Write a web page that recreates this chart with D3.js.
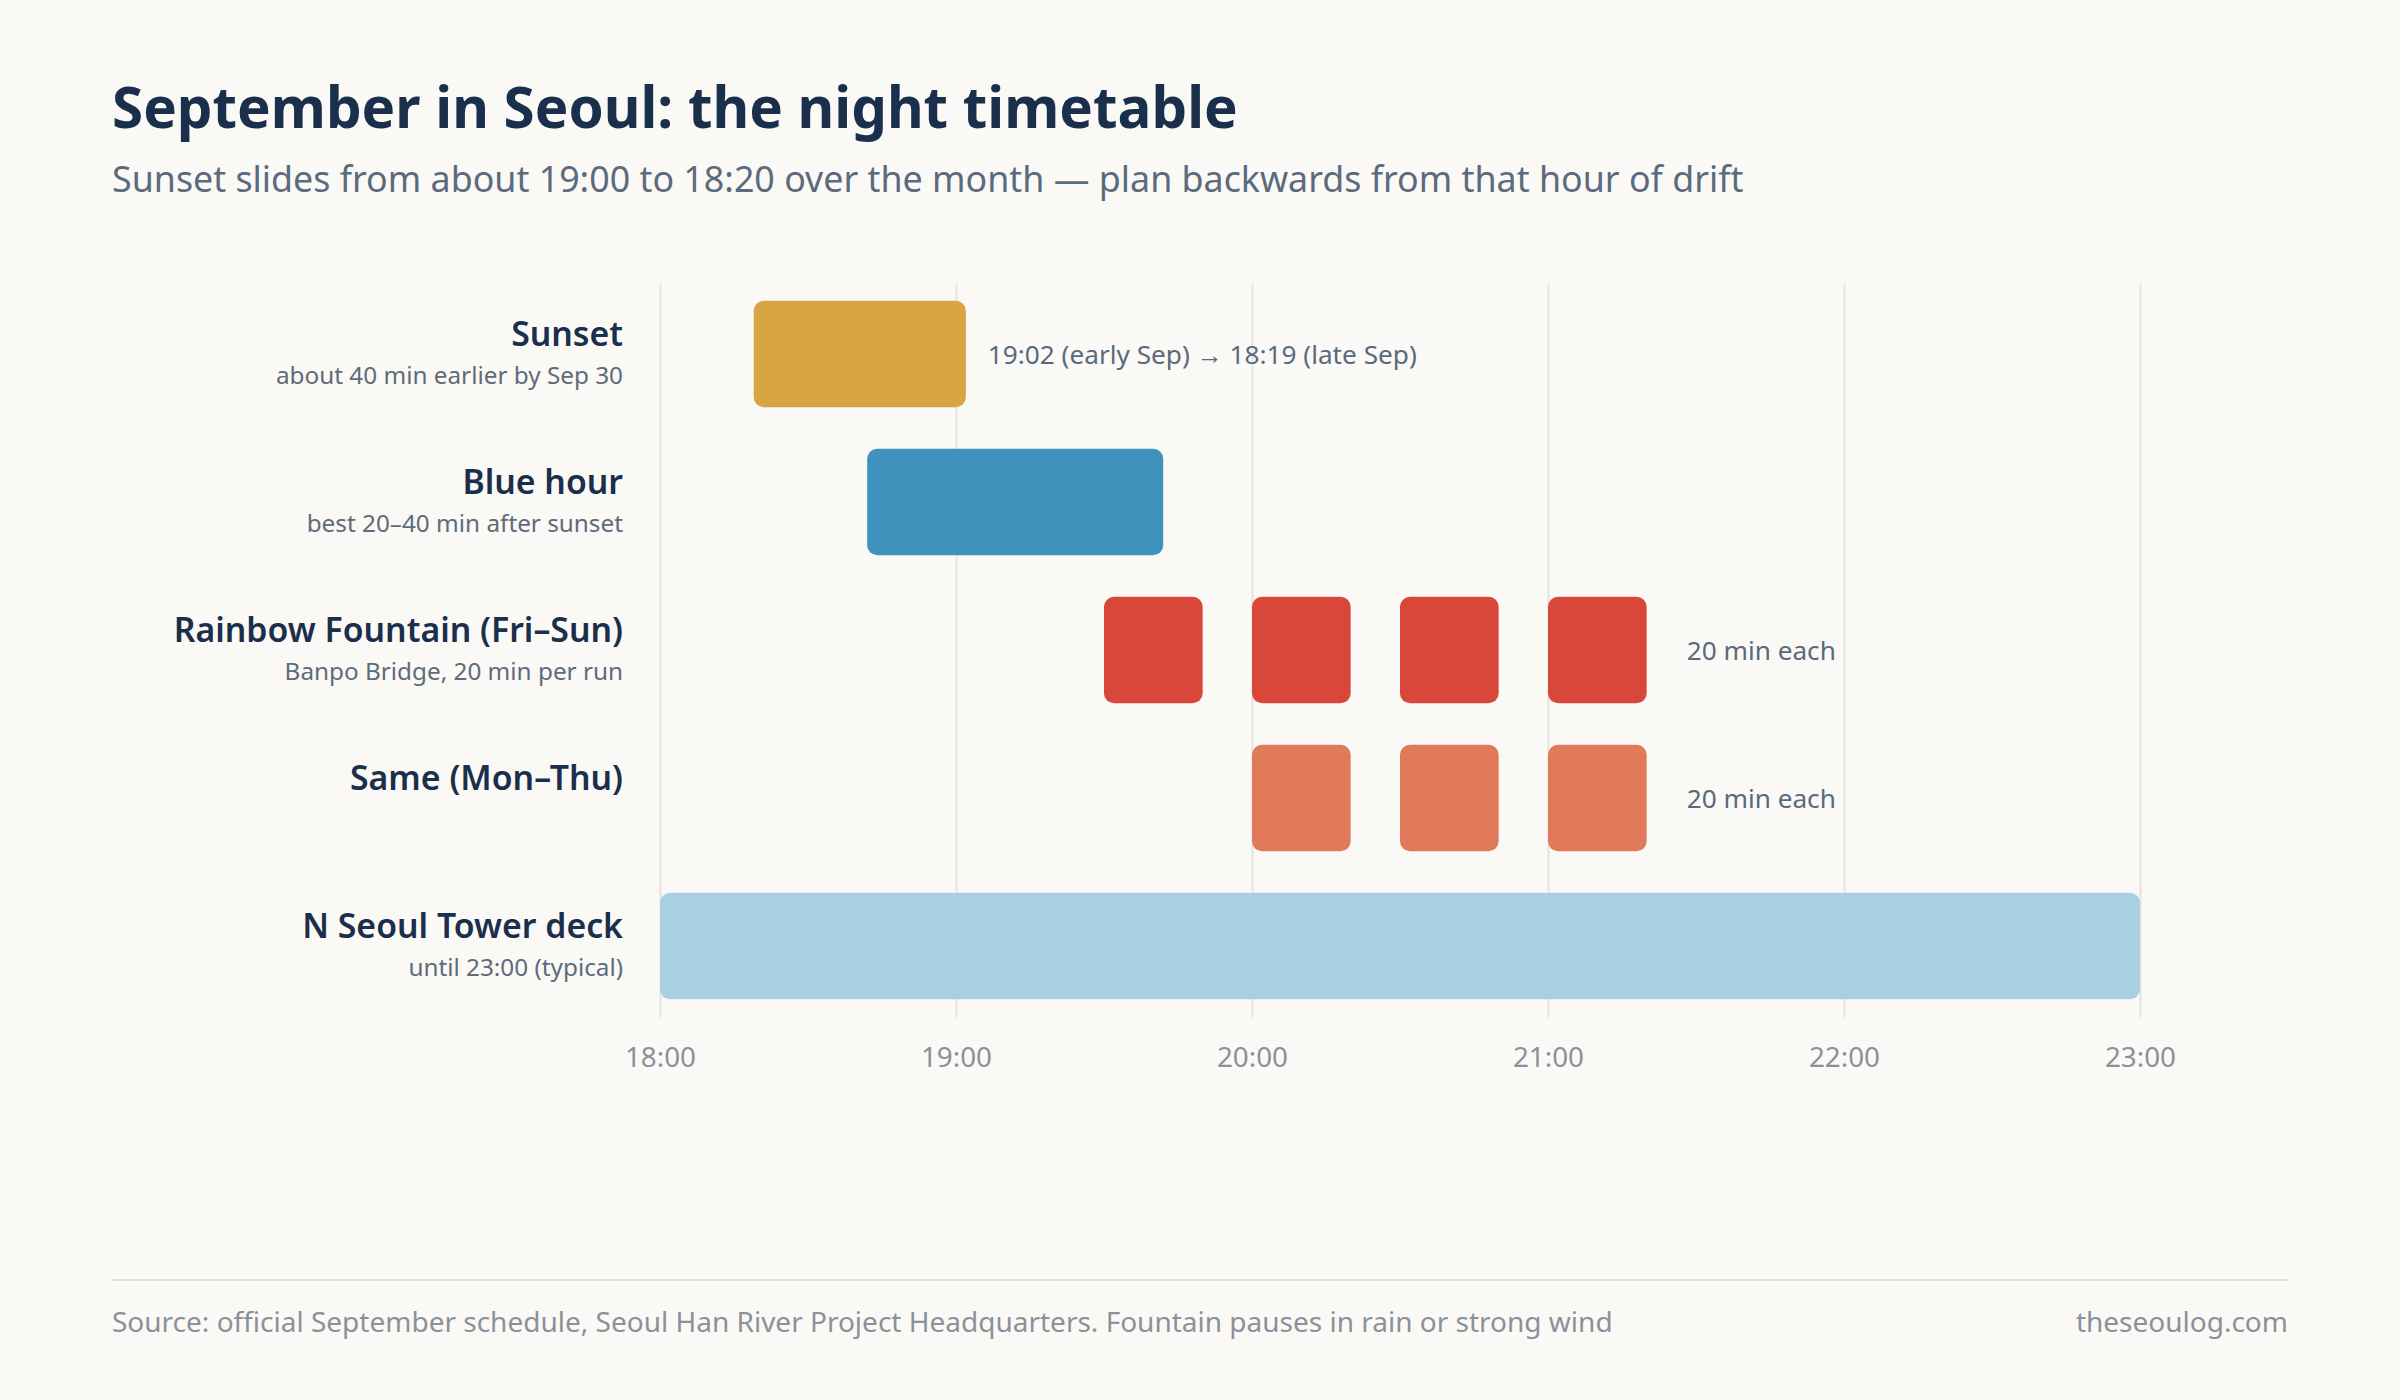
<!DOCTYPE html>
<html>
<head>
<meta charset="utf-8">
<script src="https://cdn.jsdelivr.net/npm/d3@7"></script>
<style>
  body { margin: 0; background: #faf9f5; }
  svg text { font-family: "Segoe UI", "Noto Sans", "Open Sans", sans-serif; }
</style>
</head>
<body>
<div id="chart"></div>
<script>
// rows of the timetable, top to bottom
const rows = ["Sunset", "Blue hour", "Rainbow Fountain (Fri–Sun)", "Same (Mon–Thu)", "N Seoul Tower deck"];
const rowNotes = ["about 40 min earlier by Sep 30", "best 20–40 min after sunset", "Banpo Bridge, 20 min per run", "", "until 23:00 (typical)"];

// each block: which row, start, end
const blockRows   = ["Sunset", "Blue hour",
                     "Rainbow Fountain (Fri–Sun)", "Rainbow Fountain (Fri–Sun)", "Rainbow Fountain (Fri–Sun)", "Rainbow Fountain (Fri–Sun)",
                     "Same (Mon–Thu)", "Same (Mon–Thu)", "Same (Mon–Thu)",
                     "N Seoul Tower deck"];
const blockStarts = ["18:19", "18:42", "19:30", "20:00", "20:30", "21:00", "20:00", "20:30", "21:00", "18:00"];
const blockEnds   = ["19:02", "19:42", "19:50", "20:20", "20:50", "21:20", "20:20", "20:50", "21:20", "23:00"];

// notes written to the right of a row
const noteRows  = ["Sunset", "Rainbow Fountain (Fri–Sun)", "Same (Mon–Thu)"];
const noteTexts = ["19:02 (early Sep) → 18:19 (late Sep)", "20 min each", "20 min each"];

const timeRange = ["18:00", "23:00"];

const rowColors = ["#d8a543", "#3f92bc", "#d9473b", "#e07a5a", "#a9cfe2"];

const parse = d3.timeParse("%H:%M");

const blocks = blockRows.map((r, i) => ({
    row: r,
    start: parse(blockStarts[i]),
    end: parse(blockEnds[i])
}));

const W = 2400, H = 1400;

const svg = d3.select("#chart")
    .append("svg")
    .attr("width", W)
    .attr("height", H);

svg.append("rect").attr("width", W).attr("height", H).attr("fill", "#faf9f5");

// title and subtitle
svg.append("text")
    .attr("x", 112).attr("y", 128)
    .attr("font-size", 56.5).attr("font-weight", 700)
    .attr("fill", "#1a2f4b")
    .text("September in Seoul: the night timetable");

svg.append("text")
    .attr("x", 112).attr("y", 192)
    .attr("font-size", 35.8)
    .attr("fill", "#5b6b7d")
    .text("Sunset slides from about 19:00 to 18:20 over the month — plan backwards from that hour of drift");

// scales
let x = d3.scaleTime()
    .domain(timeRange.map(parse))
    .range([660, 2140]);

let y = d3.scaleBand()
    .domain(rows)
    .range([280, 1020])
    .paddingInner(0.28)
    .paddingOuter(0.14);

let color = d3.scaleOrdinal().domain(rows).range(rowColors);

// grid lines
svg.append("g")
    .attr("transform", "translate(0,1017)")
    .call(d3.axisBottom(x).ticks(d3.timeHour.every(1)).tickSize(-733).tickFormat(""))
    .call(g => g.select(".domain").remove())
    .selectAll("line")
        .attr("stroke", "#e6e3dc")
        .attr("stroke-width", 2);

// tick labels
svg.append("g")
    .attr("transform", "translate(0,1017)")
    .call(d3.axisBottom(x).ticks(d3.timeHour.every(1)).tickSize(0).tickPadding(30).tickFormat(d3.timeFormat("%H:%M")))
    .call(g => g.select(".domain").remove())
    .selectAll("text")
        .attr("font-size", 27.8)
        .attr("font-family", null)
        .attr("fill", "#8a919b");

// the blocks
svg.selectAll("rect.block")
    .data(blocks)
    .enter()
    .append("rect")
        .attr("class", "block")
        .attr("x", d => x(d.start))
        .attr("y", d => y(d.row))
        .attr("width", d => x(d.end) - x(d.start))
        .attr("height", y.bandwidth())
        .attr("rx", 10)
        .attr("fill", d => color(d.row));

// row labels
let labels = svg.selectAll("g.rowlabel")
    .data(rows)
    .enter()
    .append("g")
        .attr("class", "rowlabel")
        .attr("transform", d => "translate(623," + (y(d) + y.bandwidth() / 2) + ")");

labels.append("text")
    .attr("text-anchor", "end")
    .attr("y", -8)
    .attr("font-size", 33.8)
    .attr("font-weight", 600)
    .attr("fill", "#1a2f4b")
    .text(d => d);

labels.append("text")
    .attr("text-anchor", "end")
    .attr("y", 30)
    .attr("font-size", 24.3)
    .attr("fill", "#5f6b7a")
    .text((d, i) => rowNotes[i]);

// notes to the right of the last block of a row
noteRows.forEach((r, i) => {
    let rowBlocks = blocks.filter(b => b.row == r);
    let lastEnd = d3.max(rowBlocks, b => b.end);
    let gap = rowBlocks.length > 1 ? 40 : 22;
    svg.append("text")
        .attr("x", x(lastEnd) + gap)
        .attr("y", y(r) + y.bandwidth() / 2 + 10)
        .attr("font-size", 26.2)
        .attr("fill", "#5a6a7d")
        .text(noteTexts[i]);
});

// footer
svg.append("line")
    .attr("x1", 112).attr("x2", 2288)
    .attr("y1", 1280).attr("y2", 1280)
    .attr("stroke", "#e3e1da")
    .attr("stroke-width", 2);

svg.append("text")
    .attr("x", 112).attr("y", 1332)
    .attr("font-size", 28)
    .attr("fill", "#8a919b")
    .text("Source: official September schedule, Seoul Han River Project Headquarters. Fountain pauses in rain or strong wind");

svg.append("text")
    .attr("x", 2288).attr("y", 1332)
    .attr("text-anchor", "end")
    .attr("font-size", 28)
    .attr("fill", "#8a919b")
    .text("theseoulog.com");
</script>
</body>
</html>
